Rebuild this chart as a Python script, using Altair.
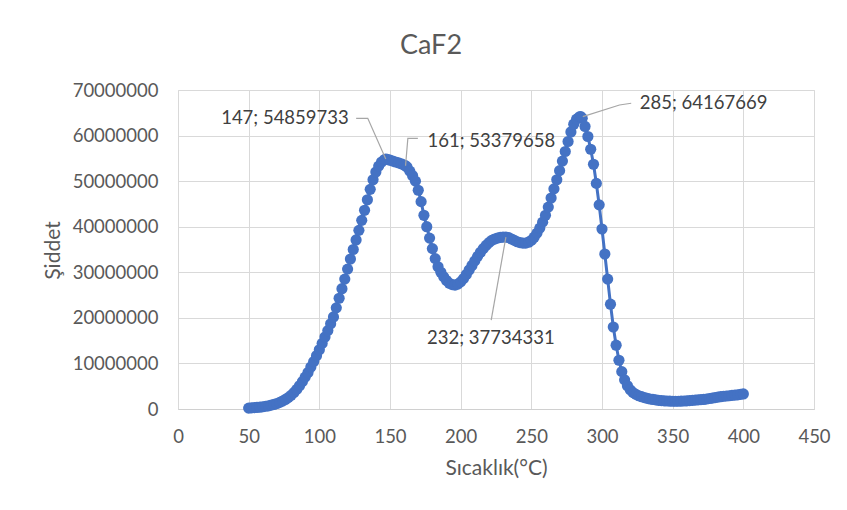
import altair as alt
import pandas as pd

# ---- data ----
temps = [50, 52, 54, 56, 58, 60, 62, 64, 66, 68, 70, 72, 74, 76, 78, 80, 82, 84, 86, 88,
         90, 92, 94, 96, 98, 100, 102, 104, 106, 108, 110, 112, 114, 116, 118, 120, 122, 124, 126, 128,
         130, 132, 134, 136, 138, 140, 142, 144, 146, 147, 148, 150, 152, 154, 156, 158, 160, 161, 162, 164,
         166, 168, 170, 172, 174, 176, 178, 180, 182, 184, 186, 188, 190, 192, 194, 196, 198, 200, 202, 204,
         206, 208, 210, 212, 214, 216, 218, 220, 222, 224, 226, 228, 230, 232, 234, 236, 238, 240, 242, 244,
         246, 248, 250, 252, 254, 256, 258, 260, 262, 264, 266, 268, 270, 272, 274, 276, 278, 280, 282, 284,
         285, 286, 288, 290, 292, 294, 296, 298, 300, 302, 304, 306, 308, 310, 312, 314, 316, 318, 320, 322,
         324, 326, 328, 330, 332, 334, 336, 338, 340, 342, 344, 346, 348, 350, 352, 354, 356, 358, 360, 362,
         364, 366, 368, 370, 372, 374, 376, 378, 380, 382, 384, 386, 388, 390, 392, 394, 396, 398, 400]

# intensity in millions
intensity_m = [0.20, 0.25, 0.30, 0.35, 0.40, 0.50, 0.60, 0.70, 0.85, 1.00, 1.20, 1.45, 1.75, 2.10, 2.50, 3.00, 3.60, 4.30, 5.10, 6.00,
               7.00, 8.00, 9.20, 10.4, 11.7, 13.0, 14.4, 15.8, 17.2, 18.7, 20.2, 22.2, 24.3, 26.4, 28.5, 30.7, 32.9, 35.0, 37.1, 39.2,
               41.4, 43.6, 45.9, 48.2, 50.3, 52.0, 53.3, 54.2, 54.7, 54.859733, 54.8, 54.6, 54.4, 54.2, 54.0, 53.8, 53.55, 53.379658, 53.1, 52.2,
               51.2, 50.0, 48.0, 45.5, 42.5, 40.0, 37.5, 35.2, 33.0, 31.2, 30.0, 29.0, 28.2, 27.6, 27.3, 27.2, 27.4, 27.9, 28.6, 29.5,
               30.5, 31.5, 32.5, 33.5, 34.4, 35.2, 35.9, 36.5, 37.0, 37.3, 37.5, 37.65, 37.72, 37.734331, 37.6, 37.3, 37.0, 36.7, 36.5, 36.4,
               36.4, 36.6, 37.0, 37.7, 38.6, 39.7, 41.0, 42.5, 44.3, 46.3, 48.3, 50.3, 52.3, 54.4, 56.5, 58.7, 60.8, 62.5, 63.6, 64.1,
               64.167669, 63.8, 62.0, 59.8, 57.0, 53.7, 49.5, 44.8, 39.5, 34.0, 28.5, 23.0, 18.0, 14.0, 10.7, 8.2, 6.4, 5.1, 4.2, 3.6,
               3.2, 2.9, 2.7, 2.5, 2.35, 2.2, 2.1, 2.0, 1.9, 1.85, 1.8, 1.75, 1.72, 1.7, 1.7, 1.7, 1.72, 1.75, 1.8, 1.85,
               1.9, 1.95, 2.0, 2.05, 2.1, 2.2, 2.3, 2.4, 2.5, 2.6, 2.7, 2.8, 2.85, 2.9, 3.0, 3.05, 3.1, 3.2, 3.3]

label_temps = [147, 161, 232, 285]
label_values = [54859733, 53379658, 37734331, 64167669]

x_ticks = [0, 50, 100, 150, 200, 250, 300, 350, 400, 450]
y_ticks = [0, 10000000, 20000000, 30000000, 40000000, 50000000, 60000000, 70000000]

# ---- layout / style ----
W, H = 636, 319
XMAX, YMAX = 450, 70000000
PXX = W / XMAX
PXY = H / YMAX
BLUE = "#4472C4"
FONT = "Lato"

# leader-line vertices and text placement, as pixel offsets from the labelled point
leader_px = [
    [(0, 0), (-18, -40.7), (-29.6, -40.7)],
    [(0, 0), (2.3, -27.4), (12.3, -27.4)],
    [(0, 0), (-14.7, 83)],
    [(2, 0), (38.7, -11.6), (50.4, -13.3)],
]
text_px = [(-37, -40.7, "right"), (22, -25, "left"), (-15, 101, "center"), (59, -13.3, "left")]

df = pd.DataFrame({"t": temps, "v": [v * 1e6 for v in intensity_m]})

lead_rows = []
for i, (lt, lv) in enumerate(zip(label_temps, label_values)):
    for k, (ox, oy) in enumerate(leader_px[i]):
        lead_rows.append({"id": i, "k": k, "t": lt + ox / PXX, "v": lv - oy / PXY})
lead_df = pd.DataFrame(lead_rows)

xs = alt.Scale(domain=[0, XMAX], nice=False, zero=False)
ys = alt.Scale(domain=[0, YMAX], nice=False)

x_enc = alt.X("t:Q", scale=xs, axis=alt.Axis(
    values=x_ticks, title="Sıcaklık(°C)", grid=True, ticks=False, tickSize=0,
    labelPadding=18, labelFontSize=18.5, labelColor="#595959", labelFont=FONT,
    titleFontSize=21, titleColor="#595959", titleFont=FONT, titleFontWeight="normal",
    titleY=59, titleBaseline="middle",
    domainColor="#d0d0d0", gridColor="#d9d9d9", labelFlush=False))
y_enc = alt.Y("v:Q", scale=ys, axis=alt.Axis(
    values=y_ticks, format="d", title="Şiddet", grid=True, ticks=False, tickSize=0,
    labelPadding=20, labelFontSize=18.5, labelColor="#595959", labelFont=FONT,
    titleFontSize=21, titleColor="#595959", titleFont=FONT, titleFontWeight="normal",
    titleX=-125, titleY=160, titleBaseline="middle", titleAngle=270,
    domain=False, gridColor="#d9d9d9"))

base = alt.Chart(df)
line = base.mark_line(color=BLUE, strokeWidth=3).encode(x=x_enc, y=y_enc)
pts = base.mark_circle(color=BLUE, size=125, opacity=1).encode(x="t:Q", y="v:Q")

leaders = alt.Chart(lead_df).mark_line(color="#a6a6a6", strokeWidth=1.2).encode(
    x="t:Q", y="v:Q", detail="id:N", order="k:Q")

layers = [line, pts, leaders]
for i, (lt, lv) in enumerate(zip(label_temps, label_values)):
    ox, oy, al = text_px[i]
    tdf = pd.DataFrame({"t": [lt + ox / PXX], "v": [lv - oy / PXY],
                        "txt": [f"{lt}; {lv}"]})
    layers.append(alt.Chart(tdf).mark_text(
        align=al, baseline="middle", font=FONT, fontSize=18.5, color="#404040"
    ).encode(x="t:Q", y="v:Q", text="txt:N"))

chart = alt.layer(*layers).properties(
    width=W, height=H,
    title=alt.TitleParams("CaF2", fontSize=27, font=FONT, fontWeight="normal",
                          color="#595959", anchor="middle", frame="group", dx=-65, dy=-17),
    autosize=alt.AutoSizeParams(type="none"),
    padding={"left": 178, "top": 90, "right": 33, "bottom": 101},
).configure_view(stroke=None).configure(background="white")

chart.save("out.html", embed_options={"renderer": "svg", "actions": False})
